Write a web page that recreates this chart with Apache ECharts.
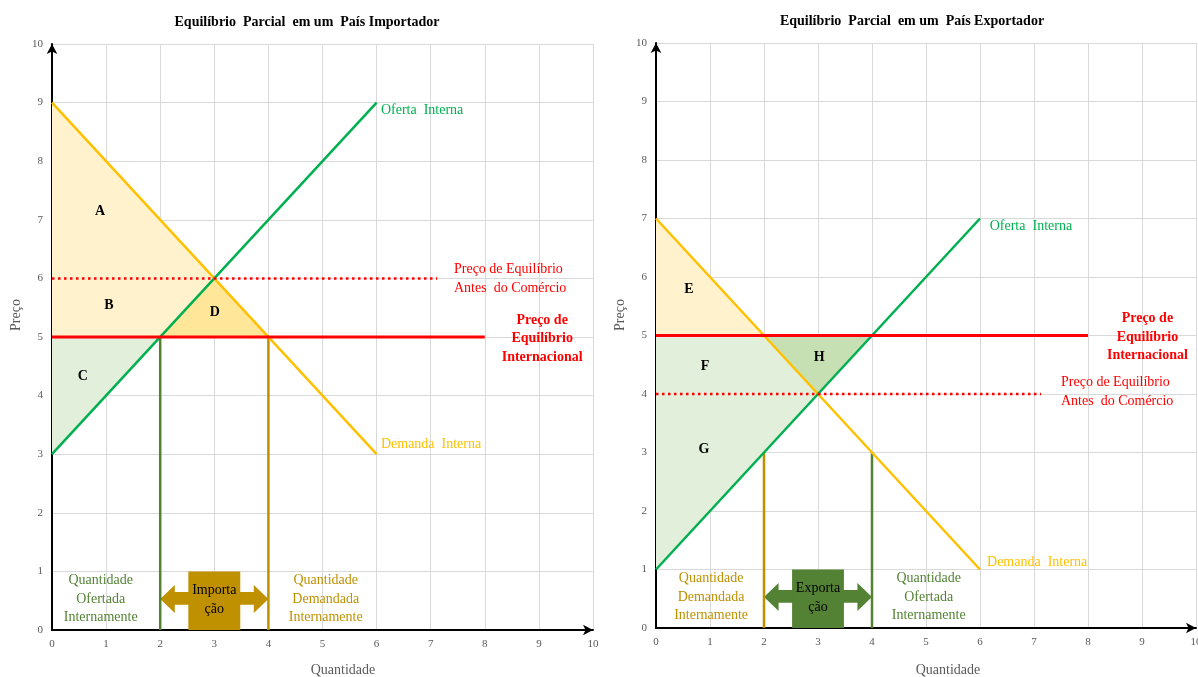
<!DOCTYPE html>
<html><head><meta charset="utf-8">
<script src="https://cdn.jsdelivr.net/npm/echarts@6/dist/echarts.min.js"></script>
<style>html,body{margin:0;padding:0;background:#fff}#c{width:1198px;height:677px}</style>
</head><body><div id="c"></div>
<script>
// ---------------- DATA ----------------
const axisTicks = [0,1,2,3,4,5,6,7,8,9,10];
// Importing country
const impDemand = [[0,9],[6,3]];
const impSupply = [[0,3],[6,9]];
const impWorldPrice = 5, impWorldEnd = 8;
const impAutarkyPrice = 6, impAutarkyQ = 3, impAutarkyEnd = 7.12;
const impQs = 2, impQd = 4;
// Exporting country
const expDemand = [[0,7],[6,1]];
const expSupply = [[0,1],[6,7]];
const expWorldPrice = 5, expWorldEnd = 8;
const expAutarkyPrice = 4, expAutarkyQ = 3, expAutarkyEnd = 7.13;
const expQd = 2, expQs = 4;

// Text annotations [x, y, text]
const impLetters = [[0.89,7.14,'A'],[1.05,5.54,'B'],[0.57,4.33,'C'],[3.01,5.42,'D']];
const expLetters = [[0.61,5.78,'E'],[0.91,4.48,'F'],[0.89,3.06,'G'],[3.02,4.62,'H']];

const C = {
  demand:'#FFC000', supply:'#00B050', red:'#FF0000', dkgreen:'#548235', gold:'#BF9000',
  ltYellow:'#FFF2CC', yellow:'#FFE699', ltGreen:'#E2EFDA', green:'#C6E0B4',
  grid:'#D9D9D9', tick:'#595959'
};
const SERIF = '"Liberation Serif", "Times New Roman", serif';

function lineS(i, data, color, width, type, z) {
  return {type:'line', xAxisIndex:i, yAxisIndex:i, data:data, showSymbol:false, symbol:'none',
    silent:true, z:z||3, animation:false,
    lineStyle:{color:color, width:width, type:type||'solid', cap:'butt'}};
}
function polyS(i, polys, colors, z) {
  return {type:'custom', xAxisIndex:i, yAxisIndex:i, silent:true, z:z||1, animation:false,
    data: polys.map(p => p[0]),
    renderItem:(params, api) => ({
      type:'polygon',
      shape:{points: polys[params.dataIndex].map(p => api.coord(p))},
      style:{fill: colors[params.dataIndex]}
    })};
}
function textS(i, items, z) {
  // items: [x, y, text, color, size, weight, align, lineHeight]
  return {type:'custom', xAxisIndex:i, yAxisIndex:i, silent:true, z:z||6, animation:false,
    data: items.map(t => [t[0], t[1]]),
    renderItem:(params, api) => {
      const t = items[params.dataIndex];
      const p = api.coord([t[0], t[1]]);
      return {type:'text', x:p[0], y:p[1], style:{
        text:t[2], fill:t[3], fontSize:t[4], fontFamily:SERIF, fontWeight:t[5]||'normal',
        align:t[6]||'center', verticalAlign:'middle', textAlign:t[6]||'center',
        textVerticalAlign:'middle', lineHeight:t[7]||18.5}};
    }};
}
function arrowPoly(x0, x1) {
  const h = 0.27, yc = 0.53;
  return [[x0,yc],[x0+h,yc+0.24],[x0+h,yc+0.12],[x1-h,yc+0.12],[x1-h,yc+0.24],[x1,yc],
          [x1-h,yc-0.24],[x1-h,yc-0.1],[x0+h,yc-0.1],[x0+h,yc-0.24]];
}
function bodyPoly(x0, x1) {
  const m = (x0+x1)/2;
  return [[m-0.48,0],[m-0.48,1],[m+0.48,1],[m+0.48,0]];
}

function xAx(i) {
  return {gridIndex:i, type:'value', min:0, max:10, interval:1,
    axisLine:{show:true, onZero:false, lineStyle:{color:'#000', width:2}, symbol:['none','arrow'], symbolSize:[8,10], symbolOffset:[0,0]},
    axisTick:{show:false},
    axisLabel:{color:C.tick, fontFamily:SERIF, fontSize:11, margin:9, formatter:v=>String(v)},
    splitLine:{show:true, lineStyle:{color:C.grid, width:1}}};
}
function yAx(i) {
  return {gridIndex:i, type:'value', min:0, max:10, interval:1,
    axisLine:{show:true, onZero:false, lineStyle:{color:'#000', width:2}, symbol:['none','arrow'], symbolSize:[8,10]},
    axisTick:{show:false},
    axisLabel:{color:C.tick, fontFamily:SERIF, fontSize:11, margin:9},
    splitLine:{show:true, lineStyle:{color:C.grid, width:1}}};
}

// polygons derived from data
const impPolys = [
  [[0,impWorldPrice],[0,impDemand[0][1]],[impAutarkyQ,impAutarkyPrice],[impQs,impWorldPrice]],
  [[impQs,impWorldPrice],[impAutarkyQ,impAutarkyPrice],[impQd,impWorldPrice]],
  [[0,impSupply[0][1]],[0,impWorldPrice],[impQs,impWorldPrice]],
  arrowPoly(impQs, impQd), bodyPoly(impQs, impQd)
];
const impColors = [C.ltYellow, C.yellow, C.ltGreen, C.gold, C.gold];
const expPolys = [
  [[0,expWorldPrice],[0,expDemand[0][1]],[expQd,expWorldPrice]],
  [[0,expSupply[0][1]],[0,expWorldPrice],[expQd,expWorldPrice],[expAutarkyQ,expAutarkyPrice]],
  [[expQd,expWorldPrice],[expQs,expWorldPrice],[expAutarkyQ,expAutarkyPrice]],
  arrowPoly(expQd, expQs), bodyPoly(expQd, expQs)
];
const expColors = [C.ltYellow, C.ltGreen, C.green, C.dkgreen, C.dkgreen];

const impTexts = impLetters.map(l => [l[0], l[1], l[2], '#000', 14, 'bold'])
  .concat([
    [6.08, 8.86, 'Oferta  Interna', C.supply, 14, 'normal', 'left'],
    [6.08, 3.17, 'Demanda  Interna', C.demand, 14, 'normal', 'left'],
    [7.43, 6.0, 'Preço de Equilíbrio\nAntes  do Comércio', C.red, 14, 'normal', 'left', 19],
    [9.06, 4.97, 'Preço de\nEquilíbrio\nInternacional', C.red, 14, 'bold', 'center', 18.5],
    [0.9, 0.53, 'Quantidade\nOfertada\nInternamente', C.dkgreen, 14, 'normal'],
    [5.06, 0.53, 'Quantidade\nDemandada\nInternamente', C.gold, 14, 'normal'],
    [3.0, 0.51, 'Importa\nção', '#000', 14, 'normal', 'center', 19]
  ]);
const expTexts = expLetters.map(l => [l[0], l[1], l[2], '#000', 14, 'bold'])
  .concat([
    [6.18, 6.87, 'Oferta  Interna', C.supply, 14, 'normal', 'left'],
    [6.13, 1.13, 'Demanda  Interna', C.demand, 14, 'normal', 'left'],
    [7.5, 4.03, 'Preço de Equilíbrio\nAntes  do Comércio', C.red, 14, 'normal', 'left', 19],
    [9.1, 4.97, 'Preço de\nEquilíbrio\nInternacional', C.red, 14, 'bold', 'center', 18.5],
    [1.02, 0.53, 'Quantidade\nDemandada\nInternamente', C.gold, 14, 'normal'],
    [5.05, 0.53, 'Quantidade\nOfertada\nInternamente', C.dkgreen, 14, 'normal'],
    [3.0, 0.51, 'Exporta\nção', '#000', 14, 'normal', 'center', 19]
  ]);

const series = [
  polyS(0, impPolys, impColors, 1),
  lineS(0, [[impQs,0],[impQs,impWorldPrice]], C.dkgreen, 2.5, 'solid', 2),
  lineS(0, [[impQd,0],[impQd,impWorldPrice]], C.gold, 2.5, 'solid', 2),
  lineS(0, impDemand, C.demand, 2.5, 'solid', 3),
  lineS(0, impSupply, C.supply, 2.5, 'solid', 3),
  lineS(0, [[0,impAutarkyPrice],[impAutarkyEnd,impAutarkyPrice]], C.red, 2.5, [2.5,3.5], 4),
  lineS(0, [[0,impWorldPrice],[impWorldEnd,impWorldPrice]], C.red, 3, 'solid', 4),
  textS(0, impTexts, 6),

  polyS(1, expPolys, expColors, 1),
  lineS(1, [[expQd,0],[expQd,3]], C.gold, 2.5, 'solid', 2),
  lineS(1, [[expQs,0],[expQs,3]], C.dkgreen, 2.5, 'solid', 2),
  lineS(1, expDemand, C.demand, 2.5, 'solid', 3),
  lineS(1, expSupply, C.supply, 2.5, 'solid', 3),
  lineS(1, [[0,expAutarkyPrice],[expAutarkyEnd,expAutarkyPrice]], C.red, 2.5, [2.5,3.5], 4),
  lineS(1, [[0,expWorldPrice],[expWorldEnd,expWorldPrice]], C.red, 3, 'solid', 4),
  textS(1, expTexts, 6)
];

const chart = echarts.init(document.getElementById('c'), null, {renderer:'canvas'});
chart.setOption({
  animation:false,
  backgroundColor:'#fff',
  grid:[
    {left:52, top:44, width:541, height:586, containLabel:false, outerBoundsMode:'none'},
    {left:656, top:43, width:540, height:585, containLabel:false, outerBoundsMode:'none'}
  ],
  xAxis:[xAx(0), xAx(1)],
  yAxis:[yAx(0), yAx(1)],
  graphic:[
    {type:'text', x:307, y:22, style:{text:'Equilíbrio  Parcial  em um  País Importador', font:'bold 14px '+SERIF, fill:'#000', textAlign:'center', textVerticalAlign:'middle', align:'center', verticalAlign:'middle'}},
    {type:'text', x:912, y:21, style:{text:'Equilíbrio  Parcial  em um  País Exportador', font:'bold 14px '+SERIF, fill:'#000', textAlign:'center', textVerticalAlign:'middle', align:'center', verticalAlign:'middle'}},
    {type:'text', x:343, y:670, style:{text:'Quantidade', font:'14px '+SERIF, fill:C.tick, textAlign:'center', textVerticalAlign:'middle', align:'center', verticalAlign:'middle'}},
    {type:'text', x:948, y:670, style:{text:'Quantidade', font:'14px '+SERIF, fill:C.tick, textAlign:'center', textVerticalAlign:'middle', align:'center', verticalAlign:'middle'}},
    {type:'text', x:16, y:315, rotation:Math.PI/2, style:{text:'Preço', font:'14px '+SERIF, fill:C.tick, textAlign:'center', textVerticalAlign:'middle', align:'center', verticalAlign:'middle'}},
    {type:'text', x:620, y:315, rotation:Math.PI/2, style:{text:'Preço', font:'14px '+SERIF, fill:C.tick, textAlign:'center', textVerticalAlign:'middle', align:'center', verticalAlign:'middle'}}
  ],
  series: series
});
</script>
</body></html>
